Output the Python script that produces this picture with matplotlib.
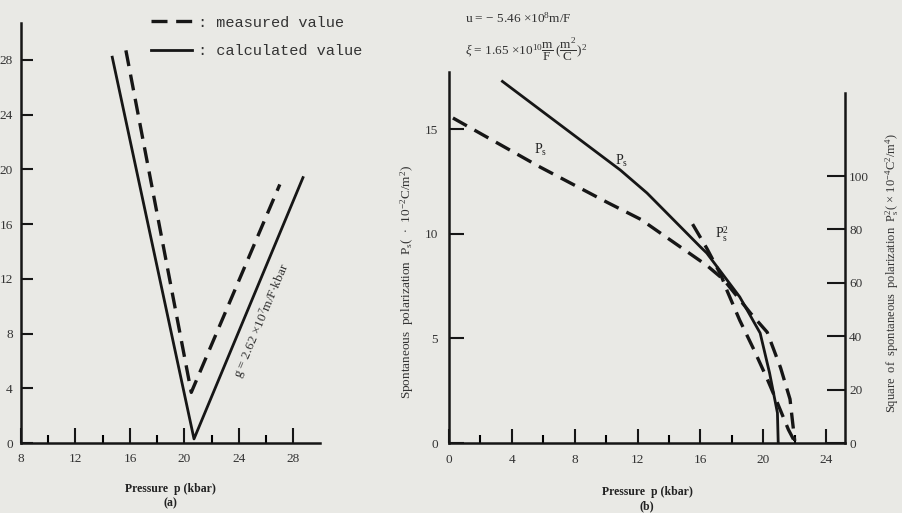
import matplotlib
matplotlib.use("Agg")
import matplotlib.pyplot as plt
from matplotlib.ticker import MultipleLocator
from matplotlib.font_manager import FontProperties

plt.rcParams["font.family"] = ["Liberation Serif", "DejaVu Serif"]
plt.rcParams["mathtext.fontset"] = "custom"
plt.rcParams["mathtext.rm"] = "Liberation Serif"
plt.rcParams["mathtext.it"] = "Liberation Serif:italic"
plt.rcParams["mathtext.bf"] = "Liberation Serif:bold"

# ---- data: panel (a), V-shaped curves vs pressure (kbar)
a_calc_p = [14.7, 20.7, 28.7]
a_calc_v = [28.2, 0.3, 19.4]
a_meas_p = [15.7, 20.5, 27.0]
a_meas_v = [28.7, 3.7, 18.9]
a_yticks = [0, 4, 8, 12, 16, 20, 24, 28]

# ---- data: panel (b), spontaneous polarization vs pressure
b_calc_p = [3.4, 10.9, 12.6, 14.3, 16.0, 16.4, 18.5, 19.8, 20.4, 20.9, 20.95]
b_calc_ps = [17.3, 13.06, 11.96, 10.67, 9.38, 9.09, 6.99, 5.26, 3.35, 1.44, 0.0]
b_meas_p = [0.25, 5.8, 10.1, 12.2, 14.3, 16.4, 17.5, 19.2, 20.25, 21.1, 21.7, 22.0]
b_meas_ps = [15.55, 13.2, 11.5, 10.7, 9.6, 8.5, 7.8, 6.2, 5.3, 3.6, 2.1, 0.1]
b_sq_p = [15.5, 16.4, 17.3, 17.7, 18.5, 19.4, 20.25, 20.9, 21.6, 22.0]
b_sq_v = [82, 73, 63, 57, 46, 35, 24, 15, 5, 0.5]
b_left_ticks = [0, 5, 10, 15]
b_right_ticks = [0, 20, 40, 60, 80, 100]

ink = "#161616"
bg = "#e9e9e5"
dash = (0, (4.8, 2.6))
W, H = 902, 513

fig = plt.figure(figsize=(W / 100, H / 100), dpi=100, facecolor=bg)

def rect(x0, y_top, x1, y_bot):
    return [x0 / W, 1 - y_bot / H, (x1 - x0) / W, (y_bot - y_top) / H]

# ================= panel (a)
ax = fig.add_axes(rect(21, 23, 320, 443))
ax.set_facecolor("none")
ax.set_xlim(8, 29.95)
ax.set_ylim(0, 30.7)
l_meas, = ax.plot(a_meas_p, a_meas_v, color=ink, lw=2.4, linestyle=dash)
l_calc, = ax.plot(a_calc_p, a_calc_v, color=ink, lw=2.0)
for s in ["top", "right"]:
    ax.spines[s].set_visible(False)
for s in ["left", "bottom"]:
    ax.spines[s].set_linewidth(1.8)
    ax.spines[s].set_color(ink)
ax.set_yticks(a_yticks)
ax.xaxis.set_major_locator(MultipleLocator(4))
ax.xaxis.set_minor_locator(MultipleLocator(2))
ax.tick_params(axis="x", which="major", direction="in", length=11, width=1.5, pad=7,
               labelsize=9.5, colors=ink, labelcolor="#333333")
ax.tick_params(axis="x", which="minor", direction="in", length=6, width=1.5)
ax.tick_params(axis="y", direction="in", length=8.5, width=1.5, pad=6,
               labelsize=9.5, colors=ink, labelcolor="#333333")
ax.set_xlabel("Pressure  p (kbar)\n(a)", fontsize=8.5, fontweight="bold",
              color="#222222", labelpad=13, linespacing=1.25)
ax.text(25.7, 8.9, r"g = 2.62 $\times$10$^7$m/F$\cdot$kbar", rotation=67,
        ha="center", va="center", fontsize=9.5, color="#333333",
        rotation_mode="anchor")

fig.legend([l_meas, l_calc], [": measured value", ": calculated value"],
           loc="upper left", bbox_to_anchor=(143 / W, 1 - 8 / H),
           frameon=False, prop=FontProperties(family="Liberation Mono", size=11),
           handlelength=2.7, handletextpad=0.4, labelspacing=0.95, borderpad=0,
           labelcolor="#333333")

# ================= panel (b)
bx = fig.add_axes(rect(449, 72, 845, 443))
bx.set_facecolor("none")
bx.set_xlim(0, 25.2)
bx.set_ylim(0, 17.75)
bx.plot(b_calc_p, b_calc_ps, color=ink, lw=2.0)
bx.plot(b_meas_p, b_meas_ps, color=ink, lw=2.4, linestyle=dash)
for s in ["top", "right"]:
    bx.spines[s].set_visible(False)
for s in ["left", "bottom"]:
    bx.spines[s].set_linewidth(1.8)
    bx.spines[s].set_color(ink)
bx.set_yticks(b_left_ticks)
bx.xaxis.set_major_locator(MultipleLocator(4))
bx.xaxis.set_minor_locator(MultipleLocator(2))
bx.tick_params(axis="x", which="major", direction="in", length=10, width=1.5, pad=8,
               labelsize=9.5, colors=ink, labelcolor="#333333")
bx.tick_params(axis="x", which="minor", direction="in", length=6, width=1.5)
bx.tick_params(axis="y", direction="in", length=11, width=1.5, pad=8,
               labelsize=9.5, colors=ink, labelcolor="#333333")
bx.set_xlabel("Pressure  p (kbar)\n(b)", fontsize=8.5, fontweight="bold",
              color="#222222", labelpad=14, linespacing=1.25)
bx.set_ylabel(r"Spontaneous  polarization  P$_\mathrm{s}$(  $\cdot$  10$^{-2}$C/m$^2$)",
              fontsize=9.5, color="#333333")
bx.yaxis.set_label_coords(-0.083, 0.434)

bx.text(5.8, 14.0, r"P$_\mathrm{s}$", fontsize=10, ha="center", va="center", color="#222222")
bx.text(11.0, 13.5, r"P$_\mathrm{s}$", fontsize=10, ha="center", va="center", color="#222222")
bx.text(17.4, 10.0, r"P$_\mathrm{s}^2$", fontsize=10, ha="center", va="center", color="#222222")

tx = bx.twinx()
tx.set_ylim(0, 139)
tx.plot(b_sq_p, b_sq_v, color=ink, lw=2.4, linestyle=dash)
for s in ["top", "left", "bottom"]:
    tx.spines[s].set_visible(False)
tx.spines["right"].set_linewidth(1.8)
tx.spines["right"].set_color(ink)
tx.spines["right"].set_bounds(0, 131)
tx.set_yticks(b_right_ticks)
tx.tick_params(axis="y", direction="in", length=13, width=1.5, pad=3,
               labelsize=9.5, colors=ink, labelcolor="#333333")
tx.set_ylabel(r"Square  of  spontaneous  polarization  P$_\mathrm{s}^2$( $\times$ 10$^{-4}$C$^2$/m$^4$)",
              fontsize=9, color="#333333")
tx.yaxis.set_label_coords(1.097, 0.458)

fig.text(465 / W, 1 - 18 / H, r"u = $-$ 5.46 $\times$10$^8$m/F",
         fontsize=9.5, va="center", ha="left", color="#333333")
fig.text(465 / W, 1 - 50 / H,
         r"$\xi$ = 1.65 $\times$10$^{10}$$\dfrac{\mathrm{m}}{\mathrm{F}}\,(\dfrac{\mathrm{m}^2}{\mathrm{C}})^2$",
         fontsize=9.5, va="center", ha="left", color="#333333")

fig.savefig("out.png", dpi=100, facecolor=bg)
